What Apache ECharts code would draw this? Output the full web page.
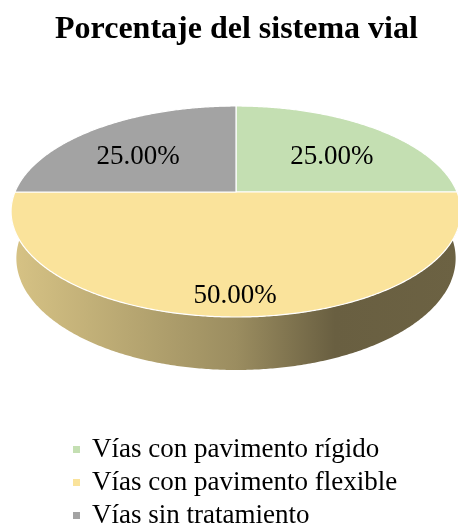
<!DOCTYPE html>
<html><head><meta charset="utf-8">
<script src="https://cdn.jsdelivr.net/npm/echarts@6/dist/echarts.min.js"></script>
<style>html,body{margin:0;padding:0;background:#fff}#c{width:458px;height:530px}</style>
</head><body><div id="c"></div>
<script>
const titleText = 'Porcentaje del sistema vial';
const categories = ['Vías con pavimento rígido', 'Vías con pavimento flexible', 'Vías sin tratamiento'];
const values = [25, 50, 25];
const colors = ['#c4dfb2', '#fae39b', '#a3a3a3'];

const total = values.reduce((a, b) => a + b, 0);
const START = 90;
const P = {cx: 236, cy: 192, f: 1061, d: 4.80, s: 0.461, c: 0.887, h: 0.2414};
function proj(X, Y, Z) {
  const up = Y * P.s + Z * P.c;
  const dep = P.d + Y * P.c - Z * P.s;
  return [P.cx + P.f * X / dep, P.cy - P.f * up / dep];
}
function shade(hex, k) {
  const n = parseInt(hex.slice(1), 16);
  const r = Math.round(((n >> 16) & 255) * k), g = Math.round(((n >> 8) & 255) * k), b = Math.round((n & 255) * k);
  return 'rgb(' + r + ',' + g + ',' + b + ')';
}
const rad = a => a * Math.PI / 180;

function renderItem(params, api) {
  const start = api.value(0), val = api.value(1);
  const color = api.visual('color');
  const a0 = START - start / total * 360;
  const a1 = a0 - val / total * 360;
  const n = Math.max(2, Math.ceil(Math.abs(a0 - a1) * 2));
  const angs = [];
  for (let k = 0; k <= n; k++) angs.push(a0 + (a1 - a0) * k / n);
  const children = [];
  let run = [];
  const runs = [];
  angs.forEach(a => {
    if (Math.sin(rad(a)) <= 1e-6) run.push(a);
    else { if (run.length > 1) runs.push(run); run = []; }
  });
  if (run.length > 1) runs.push(run);
  const grad = new echarts.graphic.LinearGradient(11, 0, 461, 0, [
    {offset: 0, color: shade(color, 0.86)},
    {offset: 0.5, color: shade(color, 0.62)},
    {offset: 0.72, color: shade(color, 0.42)},
    {offset: 1, color: shade(color, 0.43)}
  ], true);
  runs.forEach(r => {
    const pts = [];
    r.forEach(a => pts.push(proj(Math.cos(rad(a)), Math.sin(rad(a)), 0)));
    r.slice().reverse().forEach(a => pts.push(proj(Math.cos(rad(a)), Math.sin(rad(a)), -P.h)));
    children.push({type: 'polygon', shape: {points: pts}, style: {fill: grad}, z2: 1});
  });
  const top = [proj(0, 0, 0)];
  angs.forEach(a => top.push(proj(Math.cos(rad(a)), Math.sin(rad(a)), 0)));
  children.push({type: 'polygon', shape: {points: top}, style: {fill: color, stroke: '#fff', lineWidth: 1.2}, z2: 10});
  const mid = rad((a0 + a1) / 2);
  const sn = Math.sin(mid);
  const lx = P.cx + 137 * Math.cos(mid) - 1;
  const ly = P.cy - (sn > 0 ? 49.5 : 104) * sn;
  children.push({type: 'text', x: lx, y: ly, style: {
    text: (val / total * 100).toFixed(2) + '%', fontFamily: 'Liberation Serif', fontSize: 27,
    fill: '#000', align: 'center', verticalAlign: 'middle'}, z2: 20});
  return {type: 'group', children};
}

let cum = 0;
const series = categories.map((name, i) => {
  const s = {
    type: 'custom', name, coordinateSystem: 'none', silent: true,
    data: [[cum, values[i]]], itemStyle: {color: colors[i]}, renderItem
  };
  cum += values[i];
  return s;
});

const chart = echarts.init(document.getElementById('c'), null, {renderer: 'canvas'});
chart.setOption({
  animation: false,
  backgroundColor: '#fff',
  title: {
    text: titleText, left: 55, top: 14, padding: 0,
    textStyle: {fontFamily: 'Liberation Serif', fontWeight: 'bold', fontSize: 32, color: '#000'}
  },
  legend: {
    orient: 'vertical', left: 73, top: 436, height: 140, width: 380, padding: 0, itemWidth: 7, itemHeight: 7, itemGap: 6,
    icon: 'rect', selectedMode: false,
    data: categories,
    textStyle: {fontFamily: 'Liberation Serif', fontSize: 27, color: '#000', lineHeight: 26, padding: [0, 0, 0, 7]}
  },
  series
});
</script></body></html>
